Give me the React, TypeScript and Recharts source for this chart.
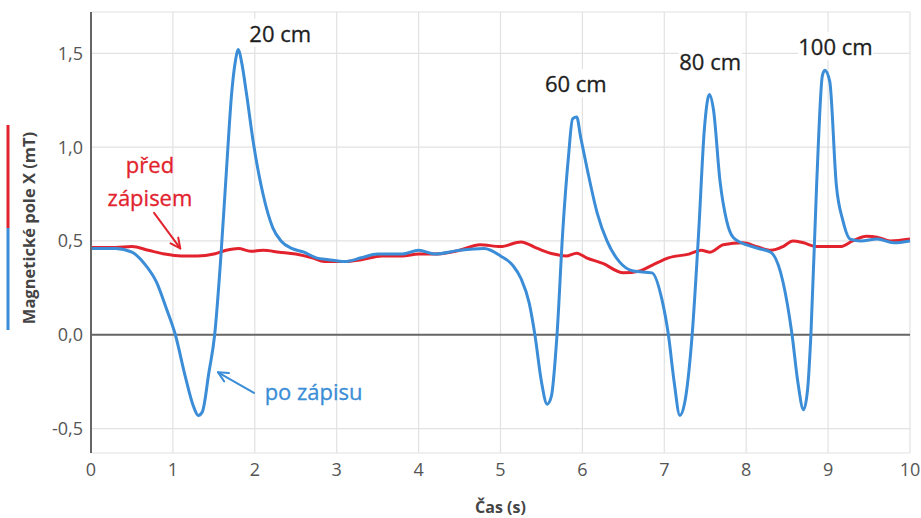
import React from "react";
import {
  CartesianGrid,
  Line,
  LineChart,
  ReferenceDot,
  ReferenceLine,
  XAxis,
  YAxis,
} from "recharts";

document.body.style.margin = "0";

const BLUE = "#3a8dd6";
const RED = "#e2232e";

// "po zápisu" (after writing)
const poTime = [
  0, 0.3, 0.5, 0.65, 0.8, 0.92, 1.03, 1.15, 1.25, 1.31, 1.36, 1.44, 1.51, 1.58, 1.65, 1.72, 1.76, 1.8,
  1.84, 1.9, 1.98, 2.1, 2.22, 2.32, 2.45, 2.6, 2.75, 2.9, 3.1, 3.3, 3.5, 3.8, 4.0, 4.2, 4.5, 4.8, 5.0,
  5.15, 5.25, 5.35, 5.42, 5.5, 5.57, 5.62, 5.69, 5.76, 5.83, 5.88, 5.93, 5.98, 6.06, 6.18, 6.3, 6.45,
  6.62, 6.85, 6.97, 7.05, 7.12, 7.19, 7.25, 7.34, 7.42, 7.49, 7.55, 7.6, 7.68, 7.76, 7.84, 8.0, 8.15,
  8.3, 8.45, 8.56, 8.63, 8.7, 8.75, 8.79, 8.86, 8.93, 8.96, 9.02, 9.1, 9.18, 9.27, 9.4, 9.6, 9.8, 10,
];
const poValues = [
  0.46, 0.46, 0.44, 0.38, 0.28, 0.14, 0.0, -0.22, -0.38, -0.43, -0.41, -0.2, 0.0, 0.38, 0.85, 1.3, 1.45,
  1.52, 1.45, 1.28, 1.03, 0.75, 0.57, 0.5, 0.46, 0.44, 0.41, 0.4, 0.39, 0.41, 0.43, 0.43, 0.45, 0.43,
  0.45, 0.46, 0.42, 0.37, 0.3, 0.17, 0.0, -0.25, -0.37, -0.33, 0.0, 0.55, 0.95, 1.15, 1.16, 1.05, 0.88,
  0.65, 0.5, 0.39, 0.34, 0.33, 0.19, 0.0, -0.25, -0.43, -0.36, 0.0, 0.55, 1.1, 1.28, 1.2, 0.82, 0.61,
  0.52, 0.48, 0.46, 0.44, 0.28, 0.0, -0.25, -0.4, -0.29, 0.0, 0.8, 1.38, 1.41, 1.35, 0.8, 0.61, 0.51,
  0.5, 0.51, 0.49, 0.5,
];

// "před zápisem" (before writing)
const predTime = [
  0, 0.3, 0.5, 0.7, 0.9, 1.1, 1.3, 1.5, 1.65, 1.8, 1.95, 2.1, 2.3, 2.5, 2.7, 2.85, 3.1, 3.3, 3.55, 3.8,
  4.0, 4.2, 4.5, 4.75, 5.0, 5.25, 5.45, 5.65, 5.8, 5.93, 6.05, 6.25, 6.5, 6.7, 6.85, 7.05, 7.3, 7.45,
  7.56, 7.72, 7.96, 8.13, 8.3, 8.45, 8.57, 8.7, 8.86, 9.0, 9.15, 9.3, 9.47, 9.6, 9.76, 10,
];
const predValues = [
  0.465, 0.465, 0.47, 0.45, 0.43, 0.42, 0.42, 0.43, 0.45, 0.46, 0.445, 0.45, 0.44, 0.43, 0.41, 0.39,
  0.39, 0.4, 0.42, 0.42, 0.43, 0.43, 0.45, 0.48, 0.47, 0.495, 0.46, 0.43, 0.42, 0.435, 0.41, 0.38, 0.33,
  0.34, 0.37, 0.41, 0.43, 0.45, 0.44, 0.48, 0.49, 0.47, 0.45, 0.47, 0.5, 0.49, 0.47, 0.47, 0.47, 0.5,
  0.525, 0.52, 0.5, 0.51,
];

const xTicks = [0, 1, 2, 3, 4, 5, 6, 7, 8, 9, 10];
const yTicks = [-0.5, 0, 0.5, 1, 1.5];

const distanceLabels = [
  { text: "20 cm", x: 2.31, y: 1.61 },
  { text: "60 cm", x: 5.92, y: 1.34 },
  { text: "80 cm", x: 7.56, y: 1.46 },
  { text: "100 cm", x: 9.09, y: 1.54 },
];

const poData = poTime.map((t, i) => ({ t, v: poValues[i] }));
const predData = predTime.map((t, i) => ({ t, v: predValues[i] }));

const fmt = (v: number) => (v === 0 ? "0,0" : v.toFixed(1).replace(".", ","));

function BoxLabel(props: any) {
  const { viewBox, text } = props;
  const w = text.length * 11.5 + 6;
  return (
    <g>
      <rect x={viewBox.x - w / 2} y={viewBox.y - 14} width={w} height={28} fill="#fff" />
      <text
        x={viewBox.x}
        y={viewBox.y}
        textAnchor="middle"
        dominantBaseline="central"
        fontSize={22}
        fill="#1e1e1e"
        stroke="#1e1e1e"
        strokeWidth={0.3}
      >
        {text}
      </text>
    </g>
  );
}

function Arrow(props: any) {
  const { x1, y1, x2, y2, stroke } = props;
  const a = Math.atan2(y2 - y1, x2 - x1);
  const h = 11;
  const s = 0.45;
  const p1 = `${x2 - h * Math.cos(a - s)},${y2 - h * Math.sin(a - s)}`;
  const p2 = `${x2 - h * Math.cos(a + s)},${y2 - h * Math.sin(a + s)}`;
  return (
    <g fill="none" stroke={stroke} strokeWidth={2} strokeLinecap="round" strokeLinejoin="round">
      <line x1={x1} y1={y1} x2={x2} y2={y2} />
      <polyline points={`${p1} ${x2},${y2} ${p2}`} />
    </g>
  );
}

function YLabel() {
  const cy = 228;
  return (
    <g>
      <line x1={8} y1={125} x2={8} y2={cy} stroke={RED} strokeWidth={3} />
      <line x1={8} y1={cy} x2={8} y2={330} stroke={BLUE} strokeWidth={3} />
      <text
        x={28}
        y={cy}
        transform={`rotate(-90 28 ${cy})`}
        textAnchor="middle"
        dominantBaseline="central"
        fontSize={16.5}
        fontWeight={700}
        fill="#444"
      >
        Magnetické pole X (mT)
      </text>
    </g>
  );
}

export default function App() {
  return (
    <div style={{ width: 921, height: 518, fontFamily: "'Open Sans', sans-serif", background: "#fff" }}>
      <LineChart width={921} height={518} margin={{ top: 12, right: 11, bottom: 0, left: 0 }}>
        <CartesianGrid stroke="#e2e2e2" strokeWidth={1.2} />
        <XAxis
          type="number"
          dataKey="t"
          domain={[0, 10]}
          ticks={xTicks}
          axisLine={false}
          tickLine={false}
          tick={{ fill: "#555", fontSize: 18 }}
          tickMargin={4}
          height={65}
          allowDuplicatedCategory={false}
          label={{
            value: "Čas (s)",
            position: "insideBottom",
            offset: 5,
            fill: "#444",
            fontSize: 16,
            fontWeight: 700,
          }}
        />
        <YAxis
          type="number"
          dataKey="v"
          domain={[-0.63, 1.72]}
          ticks={yTicks}
          allowDataOverflow
          width={91}
          axisLine={{ stroke: "#666", strokeWidth: 2 }}
          tickLine={false}
          tick={{ fill: "#555", fontSize: 18 }}
          tickFormatter={fmt}
          label={{ content: YLabel }}
        />
        <ReferenceLine y={0} stroke="#666" strokeWidth={2} />
        <Line
          data={predData}
          dataKey="v"
          type="monotone"
          stroke={RED}
          strokeWidth={3}
          dot={false}
          isAnimationActive={false}
        />
        <Line
          data={poData}
          dataKey="v"
          type="monotone"
          stroke={BLUE}
          strokeWidth={3}
          dot={false}
          isAnimationActive={false}
        />
        {distanceLabels.map((d) => (
          <ReferenceDot
            key={d.text}
            x={d.x}
            y={d.y}
            r={0}
            stroke="none"
            fill="none"
            label={{ content: (p: any) => <BoxLabel {...p} text={d.text} /> }}
          />
        ))}
        <ReferenceDot
          x={0.72}
          y={0.9}
          r={0}
          stroke="none"
          fill="none"
          label={{
            content: (p: any) => (
              <text textAnchor="middle" fontSize={22} fill={RED} stroke={RED} strokeWidth={0.3}>
                <tspan x={p.viewBox.x} y={p.viewBox.y + 7}>
                  před
                </tspan>
                <tspan x={p.viewBox.x} y={p.viewBox.y + 40}>
                  zápisem
                </tspan>
              </text>
            ),
          }}
        />
        <ReferenceLine
          segment={[
            { x: 0.77, y: 0.65 },
            { x: 1.09, y: 0.46 },
          ]}
          stroke={RED}
          shape={(p: any) => <Arrow {...p} stroke={RED} />}
        />
        <ReferenceDot
          x={2.12}
          y={-0.3}
          r={0}
          stroke="none"
          fill="none"
          label={{
            content: (p: any) => (
              <text
                x={p.viewBox.x}
                y={p.viewBox.y}
                dominantBaseline="central"
                fontSize={22}
                fill={BLUE}
                stroke={BLUE}
                strokeWidth={0.3}
              >
                po zápisu
              </text>
            ),
          }}
        />
        <ReferenceLine
          segment={[
            { x: 1.99, y: -0.31 },
            { x: 1.55, y: -0.2 },
          ]}
          stroke={BLUE}
          shape={(p: any) => <Arrow {...p} stroke={BLUE} />}
        />
      </LineChart>
    </div>
  );
}
